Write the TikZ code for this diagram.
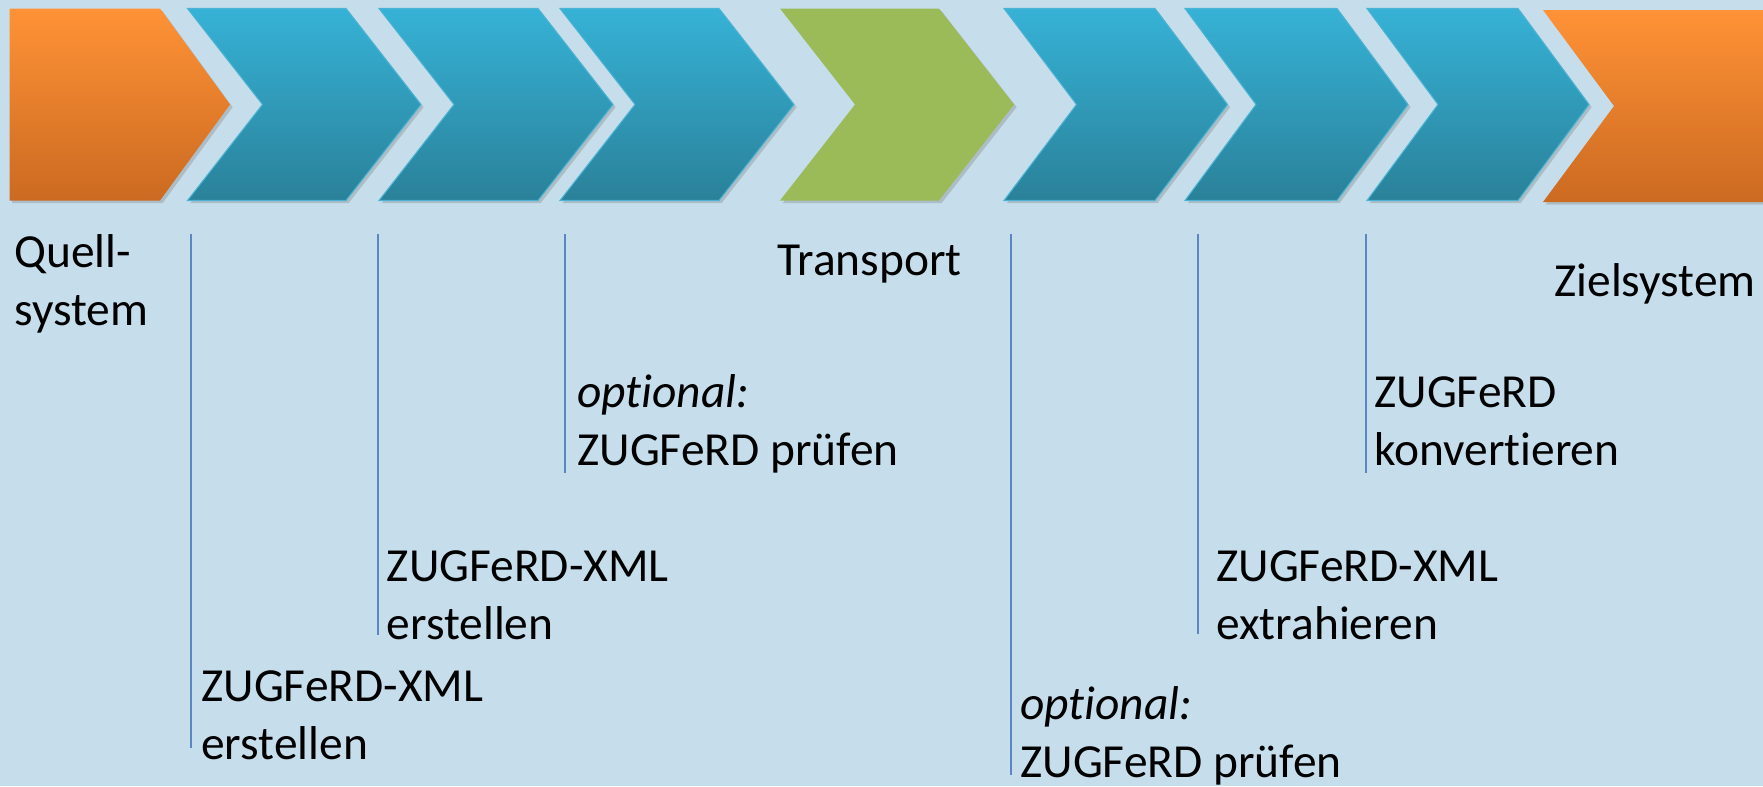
\documentclass[tikz,border=0pt]{standalone}
\usepackage{fontspec}
\setmainfont[Ligatures=NoCommon]{Carlito}
\usetikzlibrary{shadows}

\definecolor{bgblue}{HTML}{C6DEEC}
\definecolor{chevtop}{HTML}{36B2D6}
\definecolor{chevbot}{HTML}{2A8199}
\definecolor{chevedge}{HTML}{4BB3D3}
\definecolor{orgtop}{HTML}{FF9236}
\definecolor{orgbot}{HTML}{CB6A21}
\definecolor{transgreen}{HTML}{9BBB59}
\definecolor{guideblue}{HTML}{5B86C3}

\begin{document}
\begin{tikzpicture}
	\tikzstyle{phase}=[top color=chevtop,bottom color=chevbot,draw=chevedge,line width=0.6pt,
		drop shadow={shadow xshift=1.5pt,shadow yshift=-1.5pt,opacity=0.35}]
	\tikzstyle{endpoint}=[top color=orgtop,bottom color=orgbot,
		drop shadow={shadow xshift=1.5pt,shadow yshift=-1.5pt,opacity=0.35}]
	\tikzstyle{transit}=[fill=transgreen,
		drop shadow={shadow xshift=1.5pt,shadow yshift=-1.5pt,opacity=0.35}]
	\tikzstyle{guide}=[guideblue,line width=0.9pt]
	\tikzstyle{txt}=[anchor=base west,inner sep=0pt,align=left,font=\fontsize{27}{32.6}\selectfont]

	\useasboundingbox (0,0) rectangle (35.26,-15.72);
	\fill[bgblue] (0,0) rectangle (35.26,-15.72);

	% chevrons
	\path[endpoint] (0.19,-0.17) -- (3.2,-0.17) -- ++(1.4,-1.92) -- (3.2,-4.01) -- (0.19,-4.01) -- cycle;
	\foreach \l/\r/\d in {3.75/6.92/1.5, 7.58/10.76/1.5, 11.2/14.38/1.5, 20.08/23.1/1.45, 23.7/26.74/1.42, 27.34/30.36/1.42}
		\path[phase] (\l,-0.17) -- (\r,-0.17) -- ++(\d,-1.92) -- (\r,-4.01) -- (\l,-4.01) -- ++(\d,1.92) -- cycle;
	\path[transit] (15.6,-0.17) -- (18.78,-0.17) -- ++(1.5,-1.92) -- (18.78,-4.01) -- (15.6,-4.01) -- ++(1.5,1.92) -- cycle;
	\path[endpoint] (30.86,-0.2) -- (35.6,-0.2) -- (35.6,-4.04) -- (30.86,-4.04) -- ++(1.42,1.92) -- cycle;

	% labels (base = last line)
	\node[txt] (src) at (0.28,-6.5) {Quell-\\system};
	\node[txt] (transp) at (15.54,-5.5) {Transport};
	\node[txt] (dst) at (31.08,-5.92) {Zielsystem};

	\node[txt] (create1) at (4.02,-15.18) {ZUGFeRD-XML\\erstellen};
	\node[txt] (create2) at (7.73,-12.78) {ZUGFeRD-XML\\erstellen};
	\node[txt] (check1) at (11.54,-9.3) {\textit{optional:}\\ZUGFeRD prüfen};
	\node[txt] (check2) at (20.4,-15.54) {\textit{optional:}\\ZUGFeRD prüfen};
	\node[txt] (extract) at (24.32,-12.78) {ZUGFeRD-XML\\extrahieren};
	\node[txt] (convert) at (27.48,-9.3) {ZUGFeRD\\konvertieren};

	% guide lines
	\coordinate (g1t) at (3.82,-4.68);  \coordinate (g1b) at (3.82,-14.96);
	\coordinate (g2t) at (7.56,-4.68);  \coordinate (g2b) at (7.56,-12.7);
	\coordinate (g3t) at (11.3,-4.68);  \coordinate (g3b) at (11.3,-9.46);
	\coordinate (g4t) at (20.22,-4.68); \coordinate (g4b) at (20.22,-15.5);
	\coordinate (g5t) at (23.96,-4.68); \coordinate (g5b) at (23.96,-12.68);
	\coordinate (g6t) at (27.32,-4.68); \coordinate (g6b) at (27.32,-9.46);
	\foreach \i in {1,...,6}
		\draw[guide] (g\i t) -- (g\i b);
\end{tikzpicture}
\end{document}
